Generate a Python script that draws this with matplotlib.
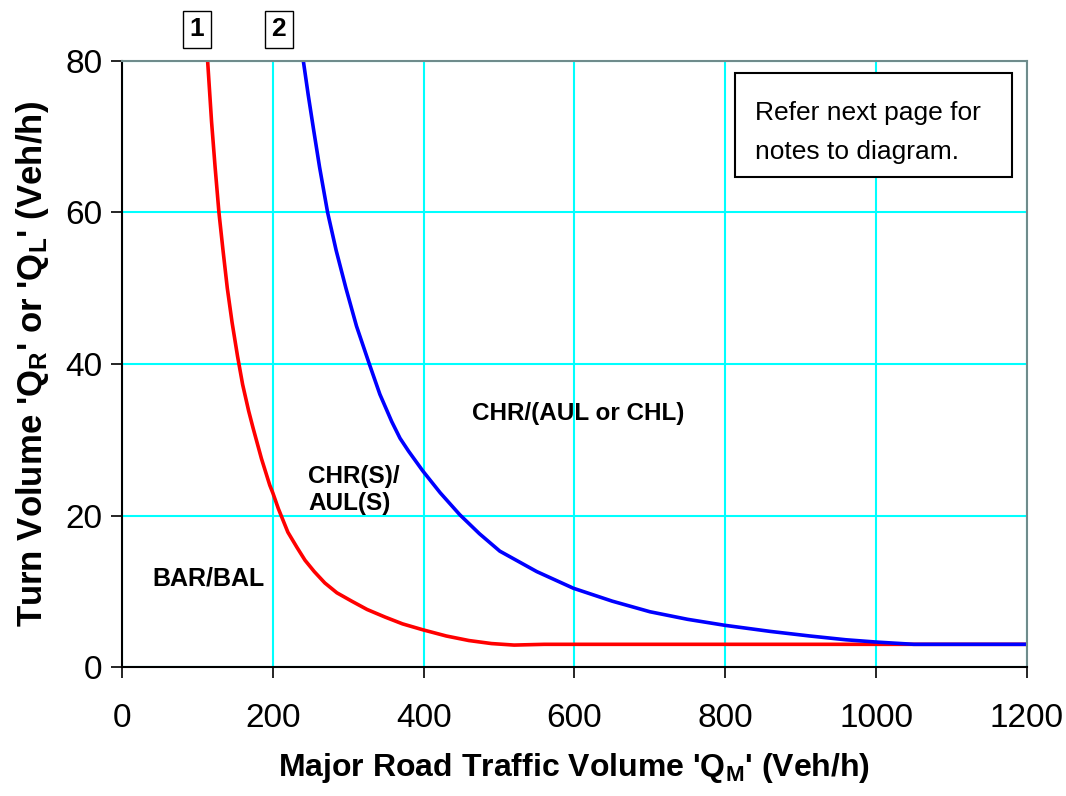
import numpy as np
import matplotlib
matplotlib.use("Agg")
import matplotlib.pyplot as plt

plt.rcParams['font.family'] = ['Liberation Sans', 'DejaVu Sans']
plt.rcParams['mathtext.fontset'] = 'custom'
plt.rcParams['mathtext.rm'] = 'Liberation Sans'
plt.rcParams['mathtext.bf'] = 'Liberation Sans:bold'

# curve 1 (red) - boundary BAR/BAL vs CHR(S)/AUL(S)
red_x = [113.6, 118.8, 123.5, 128.6, 134, 139.7, 146, 153.3, 160, 168, 174, 185,
         196, 200, 207.4, 220, 232, 242.7, 255, 269, 285, 304.6, 325, 348.8, 372,
         399.6, 430, 460, 490, 520, 560, 600, 800, 1000, 1200]
red_y = [80, 72, 66, 60, 55, 50, 45.5, 41, 37.3, 33.8, 31.5, 27.5,
         24, 23, 20.9, 17.8, 15.8, 14.1, 12.6, 11.1, 9.8, 8.7, 7.6, 6.6, 5.7,
         4.9, 4.1, 3.5, 3.1, 2.9, 3.0, 3.0, 3.0, 3.0, 3.0]

# curve 2 (blue) - boundary CHR(S)/AUL(S) vs CHR/(AUL or CHL)
blue_x = [240.5, 247, 254, 262, 272.7, 284, 297, 311, 328, 342, 357.7, 368.7, 380,
          398.8, 422, 448, 474, 501, 550, 598.6, 650, 700, 750, 800, 860, 912, 960,
          1000, 1050, 1200]
blue_y = [80, 75.5, 71, 66, 60, 55, 50, 45, 40, 36, 32.4, 30.2, 28.5,
          25.9, 23.0, 20.1, 17.6, 15.3, 12.6, 10.4, 8.7, 7.3, 6.3, 5.5, 4.7, 4.1, 3.6,
          3.3, 3.0, 3.0]

x_ticks = [0, 200, 400, 600, 800, 1000, 1200]
y_ticks = [0, 20, 40, 60, 80]

fig = plt.figure(figsize=(10.66, 7.96), dpi=100)
ax = fig.add_axes([0.1144, 0.162, 0.849, 0.7614])

ax.set_xlim(0, 1200)
ax.set_ylim(0, 80)
ax.set_xticks(x_ticks)
ax.set_yticks(y_ticks)
ax.grid(True, color='#00FFFF', linewidth=1.5)
ax.set_axisbelow(True)

ax.plot(red_x, red_y, color='#FF0000', linewidth=2.6, solid_joinstyle='round')
ax.plot(blue_x, blue_y, color='#0000FF', linewidth=2.6, solid_joinstyle='round')

for s in ['top', 'right']:
    ax.spines[s].set_color('#6f8c8c')
    ax.spines[s].set_linewidth(1.5)
for s in ['left', 'bottom']:
    ax.spines[s].set_color('black')
    ax.spines[s].set_linewidth(1.5)

ax.tick_params(axis='both', direction='out', length=8, width=1.2, labelsize=24)
ax.tick_params(axis='x', pad=18)
ax.tick_params(axis='y', pad=6)

ax.set_xlabel("Major Road Traffic Volume '$\\mathbf{Q_M}$' (Veh/h)",
              fontsize=23, fontweight='bold', labelpad=12)
ax.set_ylabel("Turn Volume '$\\mathbf{Q_R}$' or '$\\mathbf{Q_L}$' (Veh/h)",
              fontsize=25, fontweight='bold', labelpad=10)

ax.text(40, 11.75, 'BAR/BAL', fontsize=18, fontweight='bold', va='center')
ax.text(247, 23.4, 'CHR(S)/\nAUL(S)', fontsize=17.5, fontweight='bold', va='center',
        linespacing=1.25)
ax.text(464, 33.5, 'CHR/(AUL or CHL)', fontsize=17.5, fontweight='bold', va='center')

# numbered boxes above the plot
for num, xv in [('1', 99.5), ('2', 208)]:
    ax.text(xv, 1.052, num, transform=ax.get_xaxis_transform(), fontsize=19,
            fontweight='bold', ha='center', va='center', clip_on=False,
            bbox=dict(boxstyle='square,pad=0.25', facecolor='white', edgecolor='black',
                      linewidth=1))

# note box
note = plt.Rectangle((0.677, 0.809), 0.306, 0.171, transform=ax.transAxes,
                     facecolor='white', edgecolor='black', linewidth=1.5, zorder=5)
ax.add_patch(note)
ax.text(0.699, 0.914, 'Refer next page for', transform=ax.transAxes, fontsize=19,
        va='center', zorder=6)
ax.text(0.699, 0.849, 'notes to diagram.', transform=ax.transAxes, fontsize=19,
        va='center', zorder=6)

fig.savefig('out.png', dpi=100)
